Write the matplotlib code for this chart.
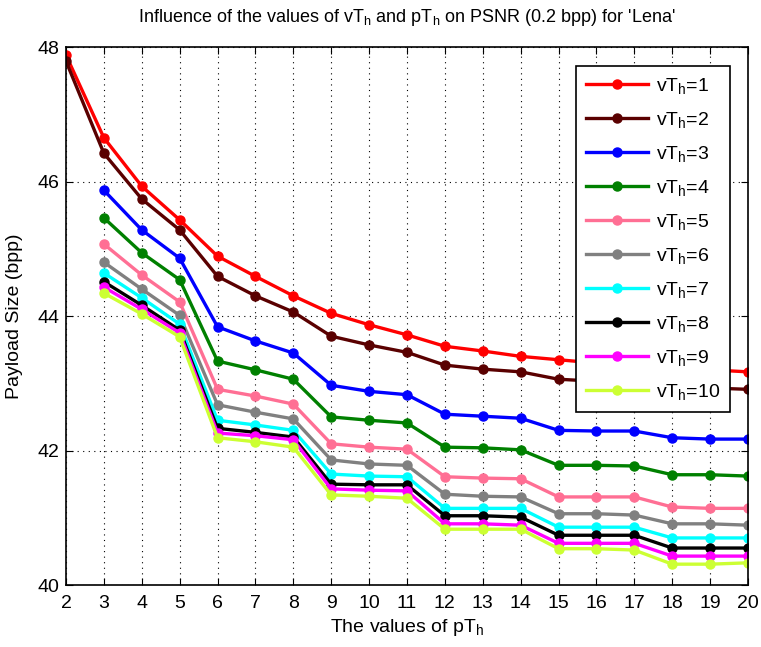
import numpy as np
import matplotlib
matplotlib.use('Agg')
import matplotlib.pyplot as plt

plt.rcParams['font.family'] = ['Liberation Sans', 'DejaVu Sans']
plt.rcParams['mathtext.fontset'] = 'custom'
plt.rcParams['mathtext.rm'] = 'Liberation Sans'
plt.rcParams['mathtext.it'] = 'Liberation Sans'

pth = np.arange(2, 21)

vth1 = [47.88, 46.65, 45.93, 45.43, 44.89, 44.59, 44.30, 44.04, 43.87, 43.72,
        43.55, 43.48, 43.40, 43.35, 43.30, 43.26, 43.23, 43.20, 43.17]
vth2 = [47.79, 46.42, 45.74, 45.28, 44.59, 44.30, 44.06, 43.70, 43.57, 43.46,
        43.27, 43.21, 43.17, 43.06, 43.03, 43.00, 42.97, 42.93, 42.91]
vth3 = [45.87, 45.28, 44.86, 43.84, 43.63, 43.45, 42.97, 42.88, 42.83,
        42.54, 42.51, 42.48, 42.30, 42.29, 42.29, 42.19, 42.17, 42.17]
vth4 = [45.46, 44.94, 44.54, 43.33, 43.20, 43.06, 42.50, 42.45, 42.41,
        42.05, 42.04, 42.01, 41.78, 41.78, 41.77, 41.64, 41.64, 41.62]
vth5 = [45.07, 44.61, 44.21, 42.91, 42.81, 42.69, 42.10, 42.05, 42.02,
        41.61, 41.59, 41.58, 41.31, 41.31, 41.31, 41.16, 41.14, 41.14]
vth6 = [44.80, 44.40, 44.01, 42.68, 42.57, 42.47, 41.86, 41.80, 41.78,
        41.35, 41.32, 41.31, 41.06, 41.06, 41.04, 40.91, 40.91, 40.89]
vth7 = [44.64, 44.27, 43.88, 42.45, 42.38, 42.30, 41.65, 41.62, 41.61,
        41.14, 41.14, 41.14, 40.86, 40.86, 40.86, 40.70, 40.70, 40.70]
vth8 = [44.51, 44.16, 43.79, 42.33, 42.27, 42.20, 41.50, 41.49, 41.49,
        41.03, 41.03, 41.01, 40.74, 40.74, 40.74, 40.55, 40.55, 40.55]
vth9 = [44.43, 44.10, 43.75, 42.26, 42.22, 42.16, 41.43, 41.41, 41.40,
        40.91, 40.91, 40.89, 40.62, 40.62, 40.62, 40.43, 40.43, 40.43]
vth10 = [44.34, 44.03, 43.69, 42.19, 42.13, 42.05, 41.34, 41.32, 41.29,
         40.83, 40.83, 40.83, 40.54, 40.54, 40.52, 40.31, 40.31, 40.33]

series = [vth1, vth2, vth3, vth4, vth5, vth6, vth7, vth8, vth9, vth10]
labels = [r'vT$_\mathrm{h}$=%d' % (i + 1) for i in range(10)]
colors = ['#ff0000', '#5a0000', '#0000ff', '#008000', '#ff6f94',
          '#808080', '#00ffff', '#000000', '#ff00ff', '#ccff33']

fig = plt.figure(figsize=(7.61, 6.47), dpi=100)
ax = fig.add_axes([0.0867, 0.0958, 0.8962, 0.8315])

for s, lab, c in zip(series, labels, colors):
    x = pth[len(pth) - len(s):]
    ax.plot(x, s, '-o', color=c, lw=2.4, ms=6.5, label=lab)

ax.set_xlim(2, 20)
ax.set_ylim(40, 48)
ax.set_xticks(pth)
ax.set_yticks([40, 42, 44, 46, 48])
ax.tick_params(direction='in', top=True, right=True, labelsize=14, length=5)
ax.tick_params(axis='x', pad=7)
ax.tick_params(axis='y', pad=5)
ax.grid(True, linestyle=(0, (1, 4)), color='black', linewidth=0.8)
for sp in ax.spines.values():
    sp.set_linewidth(1.2)

ax.set_xlabel(r'The values of pT$_\mathrm{h}$', fontsize=14, labelpad=4)
ax.set_ylabel('Payload Size (bpp)', fontsize=14, labelpad=10)
ax.set_title(r"Influence of the values of vT$_\mathrm{h}$ and pT$_\mathrm{h}$ on PSNR (0.2 bpp) for 'Lena'",
             fontsize=13, pad=18)

leg = ax.legend(loc='upper right', bbox_to_anchor=(0.988, 0.982), fontsize=14,
                handlelength=3.2, handletextpad=0.4, labelspacing=0.72,
                fancybox=False, edgecolor='black', framealpha=1, borderpad=0.5)
leg.get_frame().set_linewidth(1.2)

fig.savefig('out.png', dpi=100)
